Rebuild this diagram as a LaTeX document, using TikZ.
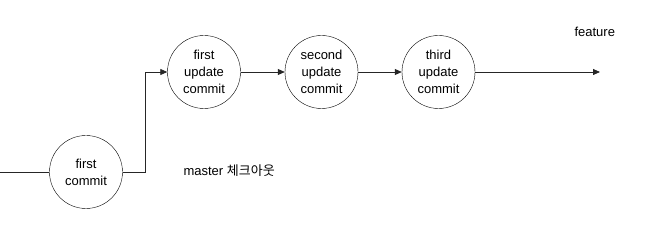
\documentclass[tikz,border=0pt]{standalone}
\usepackage{fontspec}
\setmainfont{Liberation Sans}
\newfontfamily\krfont{Noto Sans CJK KR}
\usetikzlibrary{arrows.meta}
\begin{document}
\begin{tikzpicture}[x=1pt,y=-1pt,
  commit/.style={draw=black,circle,minimum size=73pt,inner sep=0pt,align=center,font=\fontsize{13}{17}\selectfont},
  link/.style={draw=black!85,line width=0.8pt},
  arr/.style={link,-{Triangle[length=7pt,width=6pt]}},
  lbl/.style={font=\fontsize{13}{15}\selectfont}]
\useasboundingbox (0,0) rectangle (665,232);
\node[commit] (c1) at (86,172) {first\\commit};
\node[commit] (u1) at (204,72) {first\\update\\commit};
\node[commit] (u2) at (321.5,72) {second\\update\\commit};
\node[commit] (u3) at (438.5,72) {third\\update\\commit};
\coordinate (start) at (0,172);
\coordinate (bend1) at (145,172);
\coordinate (bend2) at (145,72);
\coordinate (fend) at (600,72);
\draw[link] (start) -- (c1);
\draw[arr] (c1) -- (bend1) -- (bend2) -- (u1);
\draw[arr] (u1) -- (u2);
\draw[arr] (u2) -- (u3);
\draw[arr] (u3) -- (fend);
\node[lbl,anchor=west] (master) at (180,171) {master {\krfont 체크아웃}};
\node[lbl,anchor=west] (feat) at (571,32) {feature};
\end{tikzpicture}
\end{document}
